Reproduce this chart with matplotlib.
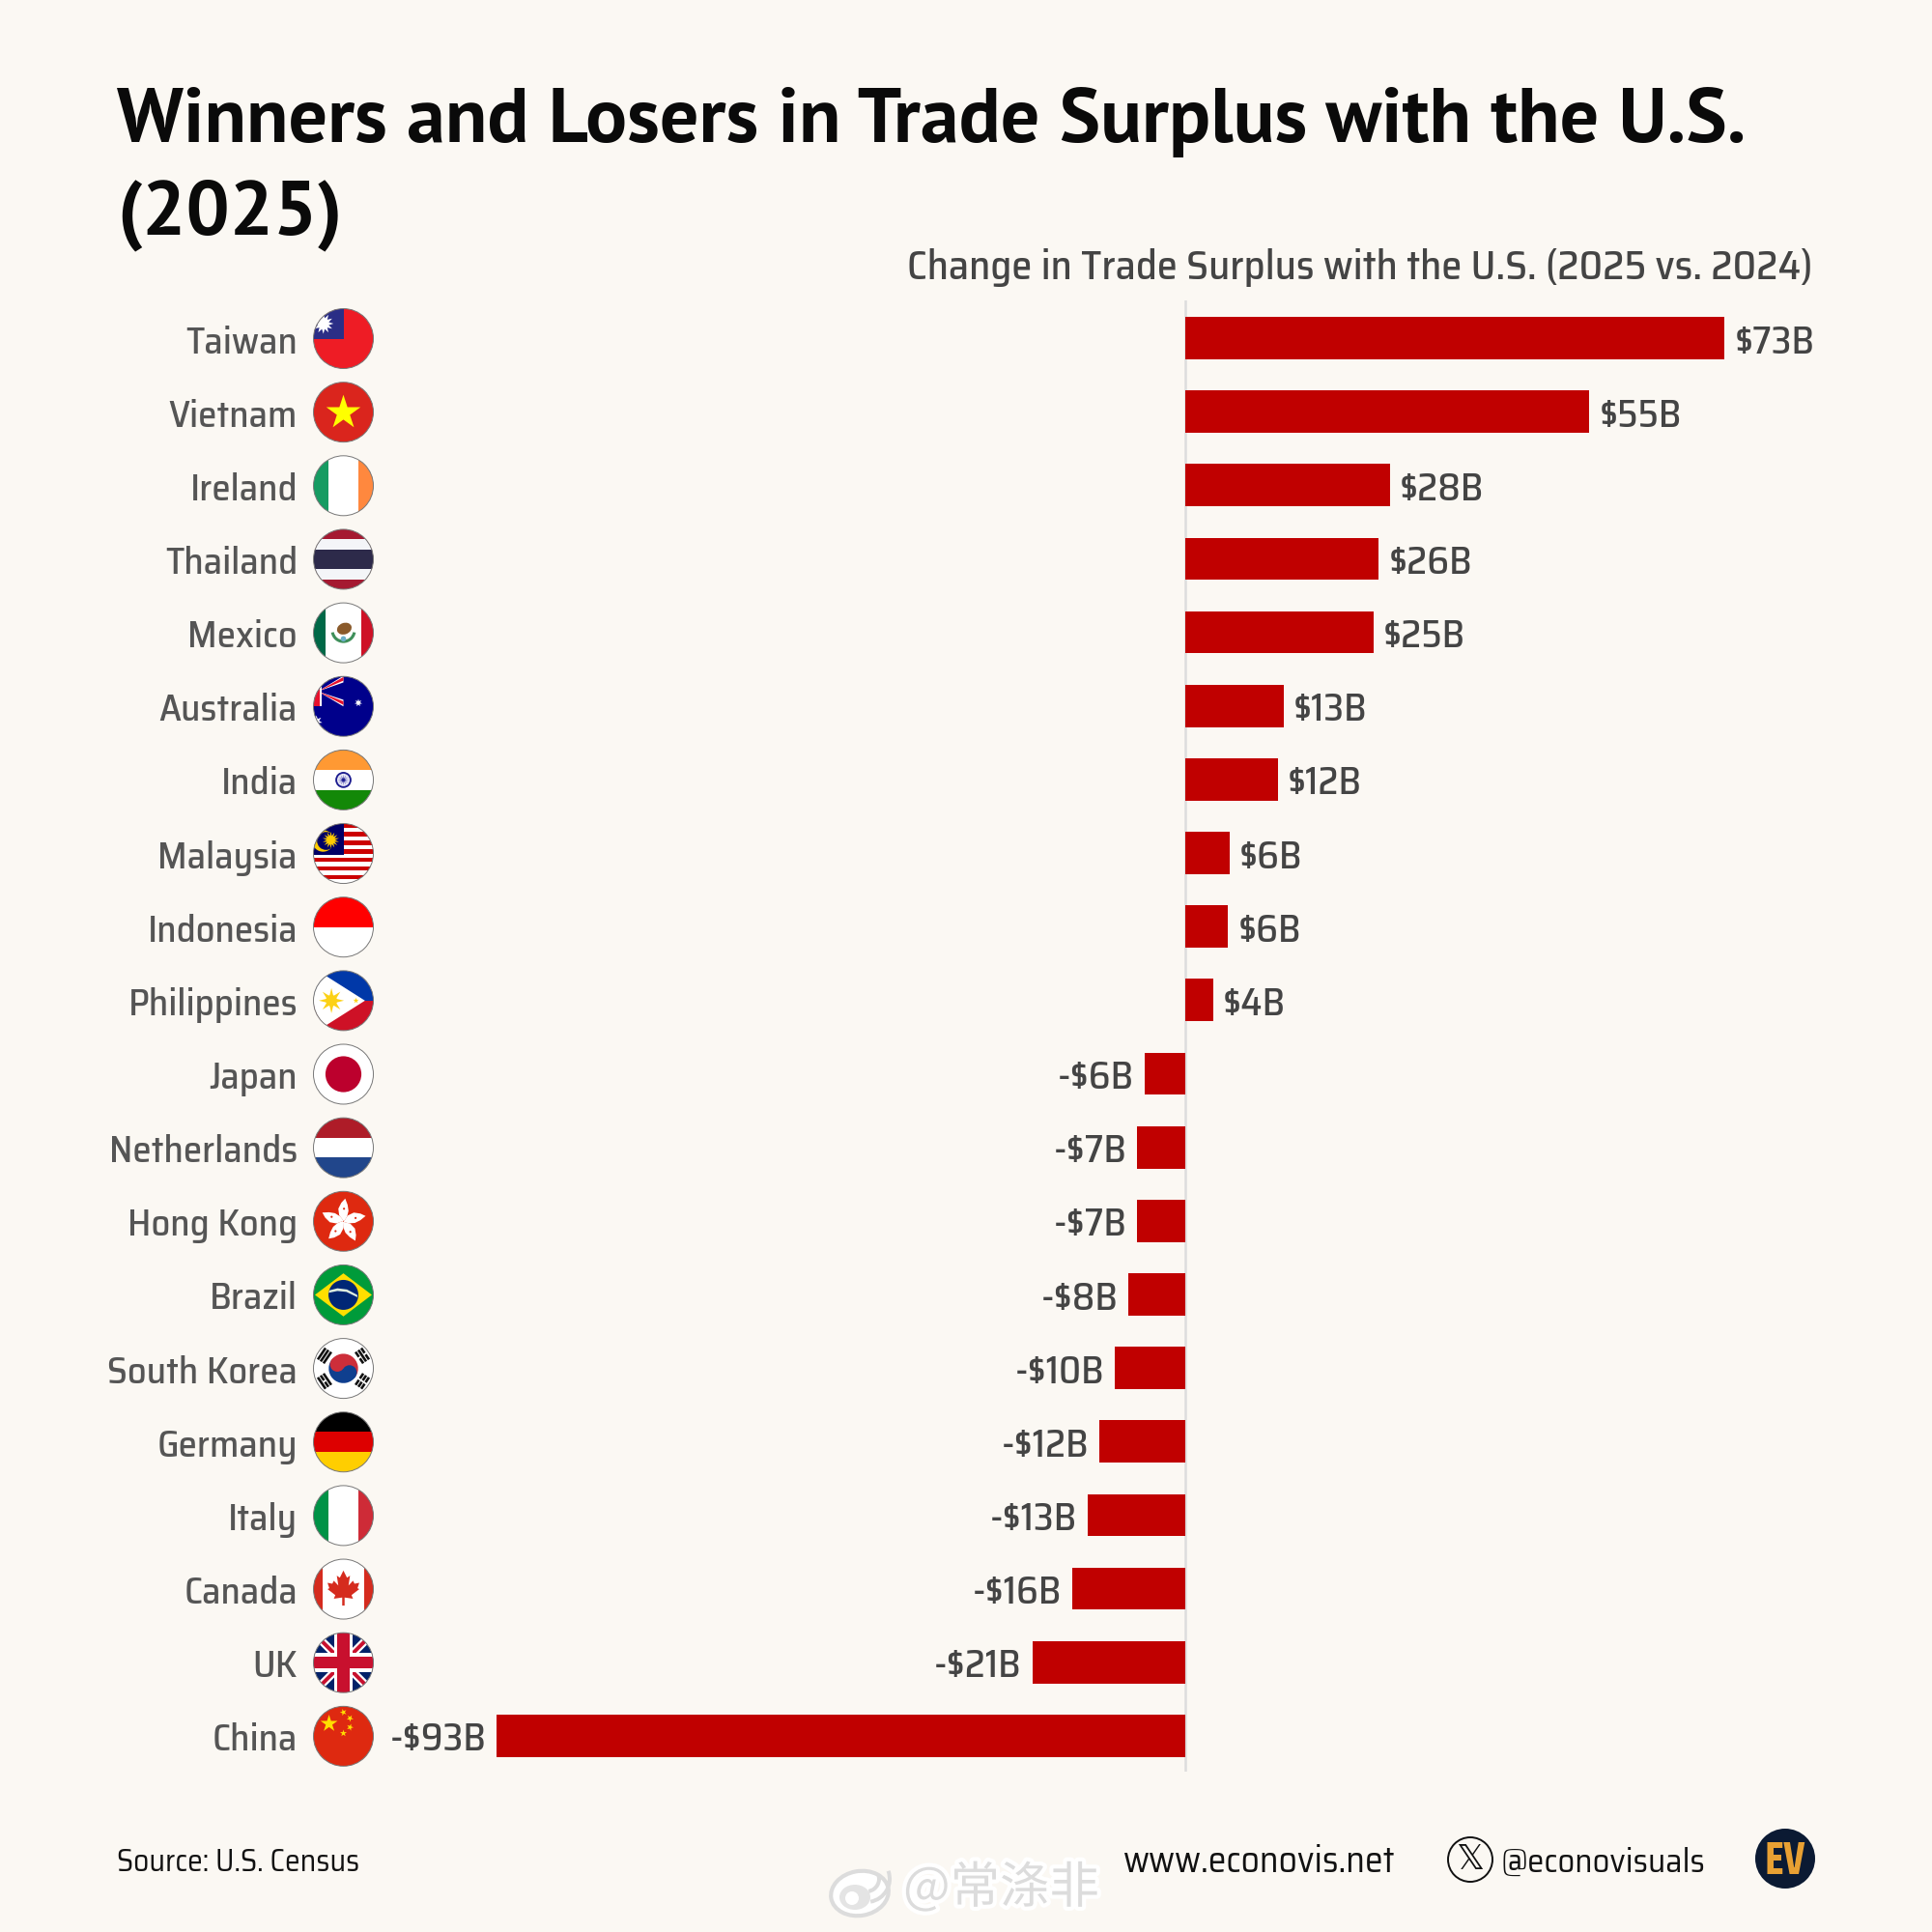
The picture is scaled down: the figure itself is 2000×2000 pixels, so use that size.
import numpy as np
import matplotlib
matplotlib.use('Agg')
import matplotlib.pyplot as plt
import matplotlib.patheffects as pe
from matplotlib.patches import Circle, Ellipse, Polygon, Rectangle, Wedge, PathPatch
from matplotlib.path import Path
from matplotlib.transforms import Affine2D, Bbox

countries = ['Taiwan', 'Vietnam', 'Ireland', 'Thailand', 'Mexico', 'Australia', 'India',
             'Malaysia', 'Indonesia', 'Philippines', 'Japan', 'Netherlands', 'Hong Kong',
             'Brazil', 'South Korea', 'Germany', 'Italy', 'Canada', 'UK', 'China']
change = [73.0, 54.7, 27.7, 26.2, 25.5, 13.3, 12.5, 6.0, 5.8, 3.8,
          -5.5, -6.5, -6.5, -7.7, -9.5, -11.6, -13.2, -15.3, -20.7, -93.2]
value_labels = ['$73B', '$55B', '$28B', '$26B', '$25B', '$13B', '$12B', '$6B', '$6B', '$4B',
                '-$6B', '-$7B', '-$7B', '-$8B', '-$10B', '-$12B', '-$13B', '-$16B', '-$21B', '-$93B']

BG = '#fbf8f3'
BAR = '#c00000'
GREY = '#555555'
BODY = ['Saira SemiCondensed', 'Roboto Condensed', 'Roboto', 'DejaVu Sans']
HEAD = ['PT Sans', 'Roboto Condensed', 'Roboto', 'DejaVu Sans']
EVFONT = ['Saira Condensed', 'Roboto Condensed', 'Roboto', 'DejaVu Sans']

fig = plt.figure(figsize=(10, 10), dpi=200, facecolor=BG)

# bar axes, placed so the zero line and row pitch land on the reference pixels
PX_PER_B = 7.65
ZERO_X = 1227
ROW0_Y = 350
ROW_H = 76.15
ax_l, ax_r, ax_t, ax_b = 420, 1900, 311, 1834
ax = fig.add_axes([ax_l / 2000, 1 - ax_b / 2000, (ax_r - ax_l) / 2000, (ax_b - ax_t) / 2000])
ax.set_xlim((ax_l - ZERO_X) / PX_PER_B, (ax_r - ZERO_X) / PX_PER_B)
ax.set_ylim((ax_b - ROW0_Y) / ROW_H, (ax_t - ROW0_Y) / ROW_H)
ax.axis('off')
ypos = np.arange(len(countries))
ax.barh(ypos, change, height=0.575, color=BAR, zorder=2)
ax.axvline(0, color='#dddddd', lw=0.9, zorder=1)
for y, v, lab in zip(ypos, change, value_labels):
    off = 10 / PX_PER_B if v > 0 else -11 / PX_PER_B
    ax.text(v + off, y + 0.06, lab, ha='left' if v > 0 else 'right', va='center',
            fontsize=14.4, fontweight=500, color='#444444', family=BODY)

# overlay in pixel coordinates for text and flags
ov = fig.add_axes([0, 0, 1, 1])
ov.set_xlim(0, 2000)
ov.set_ylim(2000, 0)
ov.axis('off')
ov.patch.set_alpha(0)


class Flag:
    def __init__(self, cx, cy, r=31):
        self.t = Affine2D().scale(r, -r).translate(cx, cy) + ov.transData
        self.clip = Circle((0, 0), 1, transform=self.t, fc='white', ec='none')
        ov.add_patch(self.clip)

    def add(self, p):
        ov.add_patch(p)
        p.set_clip_path(self.clip)
        return p

    def rect(self, u0, v0, u1, v1, c):
        return self.add(Rectangle((u0, v0), u1 - u0, v1 - v0, fc=c, ec='none', transform=self.t))

    def poly(self, pts, c):
        return self.add(Polygon(pts, closed=True, fc=c, ec='none', transform=self.t))

    def disc(self, u, v, r, c):
        return self.add(Circle((u, v), r, fc=c, ec='none', transform=self.t))

    def star(self, u, v, r, c, n=5, inner=0.382, rot=90):
        ang = np.deg2rad(rot + np.arange(2 * n) * 180 / n)
        rad = np.where(np.arange(2 * n) % 2 == 0, r, r * inner)
        return self.poly(np.c_[u + rad * np.cos(ang), v + rad * np.sin(ang)], c)

    def done(self):
        ov.add_patch(Circle((0, 0), 1, transform=self.t, fc='none', ec='#777777', lw=0.35))


def hstripes(f, cols):
    edges = np.linspace(1, -1, len(cols) + 1)
    for i, c in enumerate(cols):
        f.rect(-1, edges[i + 1], 1, edges[i], c)


def vstripes(f, cols, w=(-0.5, 0.5)):
    f.rect(-1, -1, w[0], 1, cols[0])
    f.rect(w[0], -1, w[1], 1, cols[1])
    f.rect(w[1], -1, 1, 1, cols[2])


def union_jack(f):
    f.rect(-1, -1, 1, 1, '#012169')
    for sx in (1, -1):
        for a, c in ((0.19, 'white'), (0.09, '#c8102e')):
            f.poly([(-sx - a, -1), (-sx + a, -1), (sx + a, 1), (sx - a, 1)], c)
    f.rect(-0.32, -1, 0.32, 1, 'white')
    f.rect(-1, -0.32, 1, 0.32, 'white')
    f.rect(-0.2, -1, 0.2, 1, '#c8102e')
    f.rect(-1, -0.2, 1, 0.2, '#c8102e')


def aussie_canton(f):
    # the reference crops the jack, so only the stripes around its centre show
    f.rect(-1, 0, 0, 1, '#00008b')
    box = Bbox([[-1, 0], [0, 1]])

    def band(pts, c):
        f.add(PathPatch(Path(pts + [pts[0]]).clip_to_bbox(box), fc=c, ec='none', transform=f.t))

    band([(-0.85, 0.5), (0.0, 1.02), (0.0, 0.8)], 'white')
    band([(-0.85, 0.5), (0.0, 0.22), (0.0, -0.0)], 'white')
    band([(-0.85, 0.5), (0.0, 0.98), (0.0, 0.86)], '#e8112d')
    band([(-0.85, 0.5), (0.0, 0.17), (0.0, 0.05)], '#e8112d')
    f.rect(-1, 0, -0.72, 1, 'white')
    f.rect(-1, 0, -0.8, 1, '#e8112d')


def trigram(f, ang, broken):
    d = np.array([np.cos(np.deg2rad(ang)), np.sin(np.deg2rad(ang))])
    n = np.array([-d[1], d[0]])
    for k, br in zip((-1, 0, 1), broken):
        c = d * (0.76 + k * 0.115)
        segs = [(-0.23, -0.03), (0.03, 0.23)] if br else [(-0.23, 0.23)]
        for s0, s1 in segs:
            pts = [c + n * s0 - d * 0.042, c + n * s1 - d * 0.042, c + n * s1 + d * 0.042, c + n * s0 + d * 0.042]
            f.poly(pts, '#111111')


def draw_flag(name, cx, cy):
    f = Flag(cx, cy)
    if name == 'Taiwan':
        f.rect(-1, -1, 1, 1, '#ee1c25')
        f.rect(-1, 0, 0, 1, '#2b2e86')
        f.star(-0.67, 0.5, 0.34, 'white', n=12, inner=0.55)
        f.disc(-0.67, 0.5, 0.17, 'white')
    elif name == 'Vietnam':
        f.rect(-1, -1, 1, 1, '#da251d')
        f.star(0, -0.02, 0.6, '#ffff00')
    elif name == 'Ireland':
        vstripes(f, ['#169b62', 'white', '#ff883e'])
    elif name == 'Thailand':
        f.rect(-1, -1, 1, 1, '#a51931')
        f.rect(-1, -0.67, 1, 0.67, '#f4f5f8')
        f.rect(-1, -0.33, 1, 0.33, '#2d2a4a')
    elif name == 'Mexico':
        vstripes(f, ['#006847', 'white', '#ce1126'], (-0.6, 0.6))
        f.add(Wedge((0, 0.08), 0.42, 190, 350, width=0.1, fc='#3f8f5a', ec='none', transform=f.t))
        f.add(Ellipse((0.03, 0.14), 0.5, 0.38, angle=20, fc='#8a5a2b', ec='none', transform=f.t))
        f.disc(0, -0.2, 0.09, '#6cb0c8')
    elif name == 'Australia':
        f.rect(-1, -1, 1, 1, '#00008b')
        aussie_canton(f)
        f.star(0.5, 0.12, 0.13, 'white', n=7, inner=0.45)
        f.star(-0.9, -0.5, 0.2, 'white', n=7, inner=0.45)
    elif name == 'India':
        hstripes(f, ['#ff9933', 'white', '#138808'])
        f.disc(0, 0, 0.27, '#1b1b8f')
        f.disc(0, 0, 0.21, '#e6e6f5')
        f.star(0, 0, 0.19, '#5555b0', n=12, inner=0.3)
        f.disc(0, 0, 0.05, '#1b1b8f')
    elif name == 'Malaysia':
        hstripes(f, ['#cc0001', 'white'] * 7)
        f.rect(-1, -0.05, 0, 1, '#010066')
        f.disc(-0.68, 0.42, 0.36, '#ffcc00')
        f.disc(-0.58, 0.42, 0.3, '#010066')
        f.star(-0.42, 0.45, 0.28, '#ffcc00', n=14, inner=0.5)
    elif name == 'Indonesia':
        f.rect(-1, 0, 1, 1, '#ff0000')
    elif name == 'Philippines':
        f.rect(-1, 0, 1, 1, '#0038a8')
        f.rect(-1, -1, 1, 0, '#ce1126')
        f.poly([(-1.25, 1.25), (0.72, 0), (-1.25, -1.25)], 'white')
        f.star(-0.4, 0, 0.42, '#fcd116', n=8, inner=0.4)
        f.disc(-0.4, 0, 0.19, '#fcd116')
        f.star(0.42, 0, 0.1, '#fcd116')
    elif name == 'Japan':
        f.disc(0, 0, 0.6, '#bc002d')
    elif name == 'Netherlands':
        hstripes(f, ['#ae1c28', 'white', '#21468b'])
    elif name == 'Hong Kong':
        f.rect(-1, -1, 1, 1, '#de2910')
        petal = [(0.02, 0.0), (-0.14, 0.2), (-0.17, 0.42), (-0.07, 0.62), (0.06, 0.76),
                 (0.14, 0.55), (0.17, 0.35), (0.12, 0.15)]
        for k in range(5):
            rot = Affine2D().rotate_deg(-72 * k) + f.t
            f.add(Polygon(petal, closed=True, fc='white', ec='none', transform=rot))
            f.add(Circle((0.02, 0.42), 0.035, fc='#de2910', ec='none', transform=rot))
    elif name == 'Brazil':
        f.rect(-1, -1, 1, 1, '#009b3a')
        f.poly([(-0.95, 0), (0, 0.72), (0.95, 0), (0, -0.72)], '#ffdf00')
        f.disc(0, 0, 0.5, '#002776')
        f.poly([(-0.47, 0.15), (-0.2, 0.22), (0.12, 0.18), (0.46, 0.0), (0.47, -0.08),
                (0.1, 0.1), (-0.2, 0.13), (-0.49, 0.07)], '#dfeee0')
    elif name == 'South Korea':
        r = 0.49
        a = np.deg2rad(146)
        f.add(Wedge((0, 0), r, -34, 146, fc='#cd2e3a', ec='none', transform=f.t))
        f.add(Wedge((0, 0), r, 146, 326, fc='#0f3f8f', ec='none', transform=f.t))
        f.disc(r / 2 * np.cos(a), r / 2 * np.sin(a), r / 2, '#cd2e3a')
        f.disc(-r / 2 * np.cos(a), -r / 2 * np.sin(a), r / 2, '#0f3f8f')
        trigram(f, 146, (False, False, False))
        trigram(f, 34, (True, False, True))
        trigram(f, 214, (False, True, False))
        trigram(f, 326, (True, True, True))
    elif name == 'Germany':
        hstripes(f, ['#000000', '#dd0000', '#ffce00'])
    elif name == 'Italy':
        vstripes(f, ['#009246', 'white', '#ce2b37'])
    elif name == 'Canada':
        vstripes(f, ['#d52b1e', 'white', '#d52b1e'], (-0.68, 0.68))
        half = [(0.0, 0.62), (0.12, 0.38), (0.22, 0.45), (0.17, 0.12), (0.32, 0.28), (0.37, 0.18),
                (0.53, 0.21), (0.47, 0.03), (0.53, 0.0), (0.27, -0.2), (0.32, -0.32), (0.04, -0.28),
                (0.04, -0.55)]
        f.poly(half + [(-u, v) for u, v in half[::-1][:-1]], '#d52b1e')
    elif name == 'UK':
        union_jack(f)
    elif name == 'China':
        f.rect(-1, -1, 1, 1, '#de2910')
        f.star(-0.48, 0.42, 0.3, '#ffde00')
        f.star(0.0, 0.8, 0.12, '#ffde00', rot=110)
        f.star(0.22, 0.6, 0.12, '#ffde00', rot=130)
        f.star(0.22, 0.3, 0.12, '#ffde00', rot=70)
        f.star(0.0, 0.1, 0.12, '#ffde00', rot=90)
    f.done()


for i, name in enumerate(countries):
    y = ROW0_Y + i * ROW_H
    ov.text(308, y + 5, name, ha='right', va='center', fontsize=14, fontweight=500, color=GREY, family=BODY)
    draw_flag(name, 355.5, y + 0.5)

# title block
ov.text(121, 147, 'Winners and Losers in Trade Surplus with the U.S.', fontsize=28.8, fontweight='bold',
        color='#0a0a0a', va='baseline', family=HEAD)
ov.text(121, 242, '(2025)', fontsize=28.8, fontweight='bold', color='#0a0a0a', va='baseline', family=HEAD)
ov.text(1877, 277, 'Change in Trade Surplus with the U.S. (2025 vs. 2024)', ha='right', va='center',
        fontsize=15.3, fontweight=500, color='#444444', family=BODY)

# footer
ov.text(121, 1928, 'Source: U.S. Census', va='center', fontsize=11.4, color='#111111', family=BODY)
ov.text(1163, 1928, 'www.econovis.net', va='center', fontsize=13.5, color='#111111', family=BODY)
ov.add_patch(Circle((1522, 1925), 23, fc='none', ec='#111111', lw=0.7))
ov.text(1522, 1925, '\U0001D54F', ha='center', va='center', fontsize=13, color='#111111', family='DejaVu Sans')
ov.text(1553, 1928, '@econovisuals', va='center', fontsize=12.5, color='#111111', family=BODY)
ov.add_patch(Circle((1848, 1924), 31, fc='#0b1a33', ec='none'))
ov.text(1848, 1926, 'EV', ha='center', va='center', fontsize=17, fontweight='bold', color='#e8a033', family=EVFONT)

# watermark
glow = [pe.withStroke(linewidth=3, foreground='white')]
ov.text(935, 1955, '@常涤非', va='center', fontsize=18.5, color='#dcdcdc', path_effects=glow,
        family=['Noto Sans CJK SC', 'DejaVu Sans'])
ov.add_patch(Ellipse((890, 1960), 60, 46, angle=-10, fc='white', ec='#dcdcdc', lw=1.5))
ov.add_patch(Ellipse((885, 1964), 32, 26, fc='#e4e4e4', ec='none'))
ov.add_patch(Circle((882, 1965), 7, fc='white', ec='none'))
ov.add_patch(Wedge((897, 1945), 26, -20, 80, width=4, fc='#dcdcdc', ec='none'))
ov.add_patch(Wedge((897, 1945), 15, -20, 80, width=4, fc='#dcdcdc', ec='none'))

fig.savefig('out.png', dpi=200, facecolor=BG)
